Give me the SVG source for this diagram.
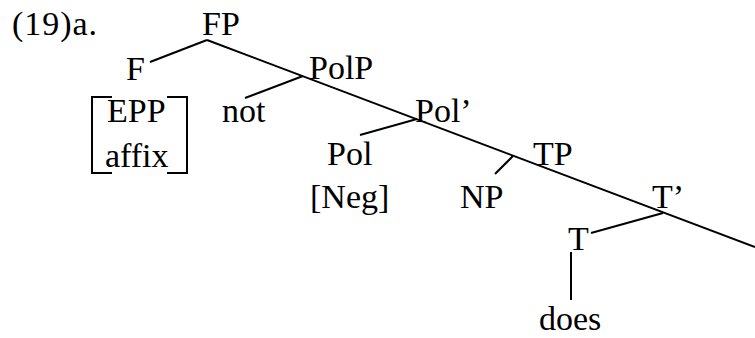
<svg xmlns="http://www.w3.org/2000/svg" width="755" height="338" viewBox="0 0 755 338">
<style>
text{font-family:"Liberation Serif","Times New Roman",serif;font-size:34px;fill:#000}
.e{stroke:#000;stroke-width:2;fill:none}
</style>
<rect width="755" height="338" fill="#fff"/>
<text x="12" y="35" textLength="85" lengthAdjust="spacing">(19)a.</text>
<g id="connectors">
<line class="e" x1="207" y1="40" x2="755" y2="247"/>
<line class="e" x1="207" y1="40" x2="150" y2="62"/>
<line class="e" x1="303" y1="76" x2="245" y2="98"/>
<line class="e" x1="417" y1="119" x2="360" y2="135"/>
<line class="e" x1="513" y1="156" x2="495" y2="174"/>
<line class="e" x1="663" y1="213" x2="591" y2="233"/>
<line class="e" x1="571" y1="252" x2="571" y2="300"/>
</g>
<g id="FP"><text x="202" y="35">FP</text></g>
<g id="F"><text x="126" y="80">F</text></g>
<g id="features">
<path class="e" d="M112,97 H92 V173 H112 M167,97 H187 V173 H167"/>
<text x="107" y="122">EPP</text>
<text x="105" y="167">affix</text>
</g>
<g id="PolP"><text x="309" y="79">PolP</text></g>
<g id="not"><text x="222" y="122">not</text></g>
<g id="PolBar"><text x="415" y="122">Pol’</text></g>
<g id="Pol"><text x="327" y="165">Pol</text><text x="310" y="208">[Neg]</text></g>
<g id="TP"><text x="533" y="165">TP</text></g>
<g id="NP"><text x="460" y="208">NP</text></g>
<g id="TBar"><text x="652" y="208">T’</text></g>
<g id="T"><text x="568" y="250">T</text></g>
<g id="does"><text x="539" y="330">does</text></g>
</svg>
